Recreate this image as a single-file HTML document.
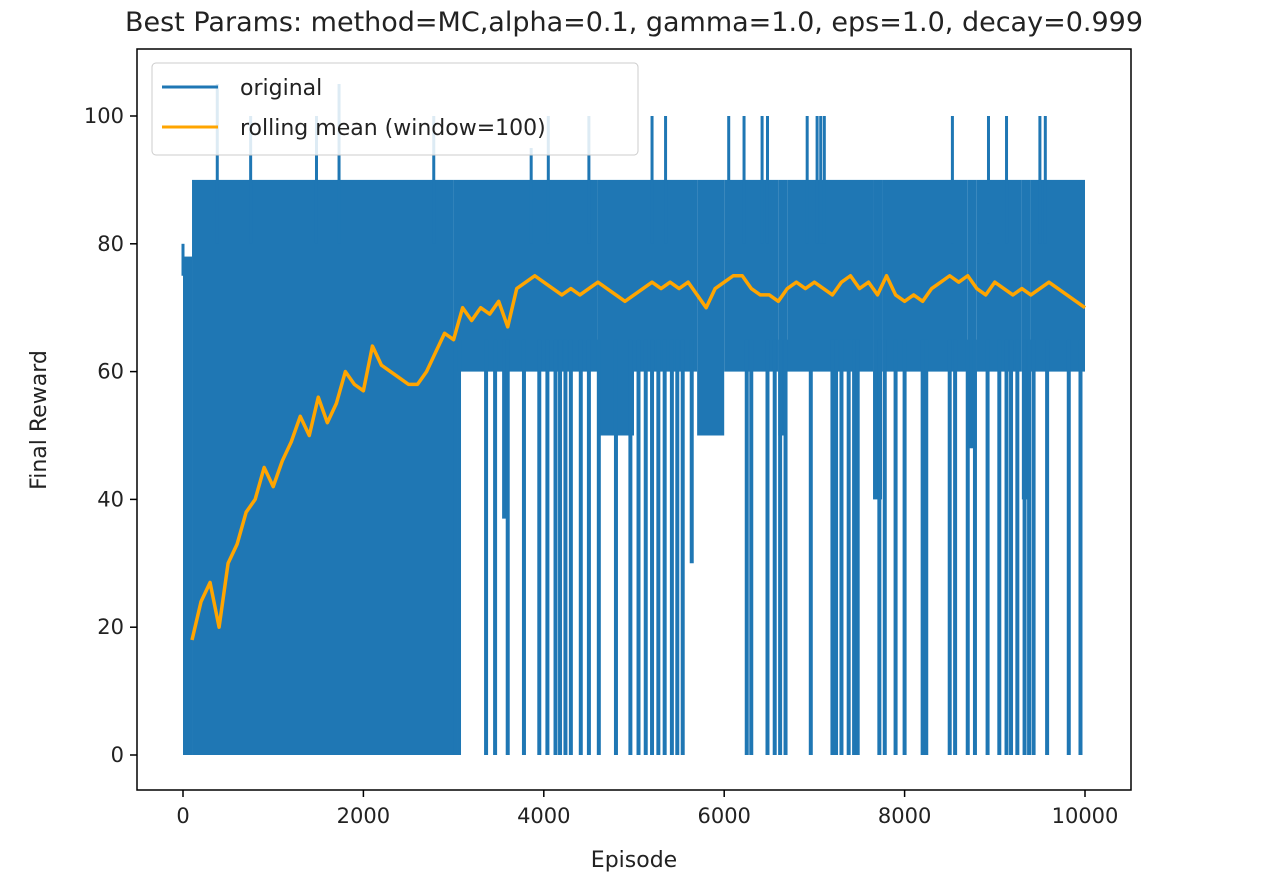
<!DOCTYPE html>
<html><head><meta charset="utf-8"><style>
body{margin:0;background:#fff;}
svg text{font-family:"DejaVu Sans","Liberation Sans",sans-serif;fill:#222;}
</style></head><body>
<svg id="chart" width="1268" height="877" viewBox="0 0 1268 877" xmlns="http://www.w3.org/2000/svg">
<text x="634" y="31" font-size="27" text-anchor="middle">Best Params: method=MC,alpha=0.1, gamma=1.0, eps=1.0, decay=0.999</text>
<g id="plot"></g>
<rect x="137" y="49" width="994" height="741" fill="none" stroke="#000" stroke-width="1.5"/>
<g id="axes"></g>
<text x="634" y="867" font-size="22" text-anchor="middle">Episode</text>
<text transform="translate(46,420) rotate(-90)" font-size="22" text-anchor="middle">Final Reward</text>
<g>
<rect x="152" y="63" width="486" height="92" rx="4" fill="#fff" fill-opacity="0.85" stroke="#ccc"/>
<line x1="162" y1="87" x2="218" y2="87" stroke="#1f77b4" stroke-width="3"/>
<text x="240" y="95" font-size="22">original</text>
<line x1="162" y1="127" x2="218" y2="127" stroke="#ffa500" stroke-width="3"/>
<text x="240" y="135" font-size="22">rolling mean (window=100)</text>
</g>
</svg>
<script>
const xTicks=[0,2000,4000,6000,8000,10000];
const yTicks=[0,20,40,60,80,100];
// band segments of the original series
const bandStart=[0,100,3000,4600,5000,5700,6000,6600,6700,7650,7750,8700,8800,9300,9400];
const bandEnd=[100,3000,4600,5000,5700,6000,6600,6700,7650,7750,8700,8800,9300,9400,10000];
const bandLow=[0,0,60,50,60,50,60,50,60,40,60,48,60,40,60];
const bandHigh=[78,90,90,90,90,90,90,90,90,90,90,90,90,90,90];
const spikeEp=[0,60,380,750,1480,1730,2780,3860,4050,4500,5200,5350,6050,6220,6420,6480,6920,7030,7070,7110,8530,8930,9130,9500,9560];
const spikeVal=[75,80,105,100,100,105,100,95,100,100,100,100,100,100,100,100,100,100,100,100,100,100,100,100,100];
const dropEp=[3020,3060,3360,3460,3560,3600,3780,3950,4040,4130,4180,4240,4300,4410,4500,4610,4800,4960,5050,5130,5200,5270,5340,5420,5480,5540,5640,6250,6300,6480,6560,6620,6680,6960,7200,7240,7300,7380,7440,7480,7720,7780,7900,8000,8200,8240,8500,8560,8700,8780,8920,9050,9130,9180,9250,9330,9380,9430,9580,9820,9950];
const dropVal=[0,0,0,0,37,0,0,0,0,0,0,0,0,0,0,0,0,0,0,0,0,0,0,0,0,0,30,0,0,0,0,0,0,0,0,0,0,0,0,0,0,0,0,0,0,0,0,0,0,0,0,0,0,0,0,0,0,0,0,0,0];
const meanEp=[100,200,300,400,500,600,700,800,900,1000,1100,1200,1300,1400,1500,1600,1700,1800,1900,2000,2100,2200,2300,2400,2500,2600,2700,2800,2900,3000,3100,3200,3300,3400,3500,3600,3700,3800,3900,4000,4100,4200,4300,4400,4500,4600,4700,4800,4900,5000,5100,5200,5300,5400,5500,5600,5700,5800,5900,6000,6100,6200,6300,6400,6500,6600,6700,6800,6900,7000,7100,7200,7300,7400,7500,7600,7700,7800,7900,8000,8100,8200,8300,8400,8500,8600,8700,8800,8900,9000,9100,9200,9300,9400,9500,9600,9700,9800,9900,10000];
const meanVal=[18,24,27,20,30,33,38,40,45,42,46,49,53,50,56,52,55,60,58,57,64,61,60,59,58,58,60,63,66,65,70,68,70,69,71,67,73,74,75,74,73,72,73,72,73,74,73,72,71,72,73,74,73,74,73,74,72,70,73,74,75,75,73,72,72,71,73,74,73,74,73,72,74,75,73,74,72,75,72,71,72,71,73,74,75,74,75,73,72,74,73,72,73,72,73,74,73,72,71,70];

const X=v=>183+(v/10000)*902;
const Y=v=>755-(v/100)*639;
const NS='http://www.w3.org/2000/svg';
const plot=document.getElementById('plot');
const axes=document.getElementById('axes');
function mk(tag,attrs,parent){const e=document.createElementNS(NS,tag);for(const k in attrs)e.setAttribute(k,attrs[k]);parent.appendChild(e);return e;}
for(let i=0;i<bandStart.length;i++){
 const r=mk('rect',{x:X(bandStart[i]),y:Y(bandHigh[i]),width:X(bandEnd[i])-X(bandStart[i]),height:Y(bandLow[i])-Y(bandHigh[i]),fill:'#1f77b4'},plot);
 
 
}
for(let i=0;i<spikeEp.length;i++){
 const l=mk('line',{x1:X(spikeEp[i]),x2:X(spikeEp[i]),y1:Y(80),y2:Y(spikeVal[i]),stroke:'#1f77b4','stroke-width':3},plot);
 
 
}
for(let i=0;i<dropEp.length;i++){
 const l=mk('line',{x1:X(dropEp[i]),x2:X(dropEp[i]),y1:Y(65),y2:Y(dropVal[i]),stroke:'#1f77b4','stroke-width':4},plot);
 
 
}
const pts=meanEp.map((e,i)=>X(e)+','+Y(meanVal[i])).join(' ');
const pl=mk('polyline',{points:pts,fill:'none',stroke:'#ffa500','stroke-width':3.5,'stroke-linejoin':'round'},plot);


xTicks.forEach(t=>{
 const l=mk('line',{x1:X(t),x2:X(t),y1:790,y2:797,stroke:'#000','stroke-width':1.5},axes);
 
 
 const tx=mk('text',{x:X(t),y:823,'font-size':21,'text-anchor':'middle'},axes);
 tx.textContent=t;
 
 
});
yTicks.forEach(t=>{
 const l=mk('line',{x1:130,x2:137,y1:Y(t),y2:Y(t),stroke:'#000','stroke-width':1.5},axes);
 
 
 const tx=mk('text',{x:124,y:Y(t)+7,'font-size':21,'text-anchor':'end'},axes);
 tx.textContent=t;
 
 
});
</script>
</body></html>
